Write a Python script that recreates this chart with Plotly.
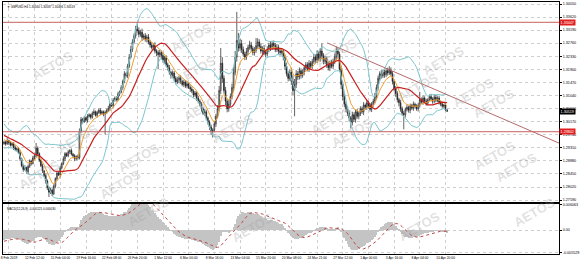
import numpy as np
import pandas as pd
import plotly.graph_objects as go

# ---------------- data ----------------
header_text = "▼ GBPUSD,H4 1.30560 1.30587 1.30496 1.30519"
macd_text = "MACD(12,26,9) -0.000125 0.000030"

# off-screen history (for indicator warm-up only)
warmup_closes = [
    1.3120, 1.3105, 1.3112, 1.3098, 1.3090, 1.3095, 1.3080, 1.3072, 1.3085, 1.3068,
    1.3060, 1.3066, 1.3055, 1.3062, 1.3048, 1.3040, 1.3045, 1.3030, 1.3035, 1.3020,
    1.3012, 1.3018, 1.3000, 1.2992, 1.2985, 1.2990, 1.2972, 1.2965, 1.2975, 1.2960,
    1.2955, 1.2962, 1.2948, 1.2940, 1.2958, 1.2975, 1.2990, 1.2968, 1.2955, 1.2945,
]

closes = [
    1.2950, 1.2944, 1.2955, 1.2948, 1.2940, 1.2945, 1.2932, 1.2925, 1.2928, 1.2915,
    1.2895, 1.2872, 1.2860, 1.2866, 1.2852, 1.2870, 1.2888, 1.2880, 1.2898, 1.2905,
    1.2930, 1.2912, 1.2890, 1.2872, 1.2855, 1.2840, 1.2822, 1.2800, 1.2785, 1.2792,
    1.2780, 1.2805, 1.2830, 1.2848, 1.2842, 1.2865, 1.2880, 1.2895, 1.2912, 1.2905,
    1.2918, 1.2922, 1.2910, 1.2905, 1.2895, 1.2903, 1.2898, 1.2985, 1.3025, 1.3018,
    1.3030, 1.3022, 1.3035, 1.3040, 1.3032, 1.3045, 1.3050, 1.3038, 1.3048, 1.3055,
    1.3045, 1.3050, 1.3042, 1.3048, 1.3055, 1.3062, 1.3075, 1.3070, 1.3088, 1.3095,
    1.3090, 1.3108, 1.3115, 1.3130, 1.3150, 1.3175, 1.3168, 1.3200, 1.3230, 1.3255,
    1.3280, 1.3300, 1.3322, 1.3318, 1.3305, 1.3312, 1.3295, 1.3300, 1.3288, 1.3296,
    1.3280, 1.3270, 1.3262, 1.3268, 1.3250, 1.3245, 1.3238, 1.3245, 1.3235, 1.3220,
    1.3228, 1.3205, 1.3195, 1.3180, 1.3170, 1.3178, 1.3160, 1.3148, 1.3155, 1.3162,
    1.3150, 1.3140, 1.3148, 1.3135, 1.3142, 1.3130, 1.3125, 1.3118, 1.3105, 1.3112,
    1.3095, 1.3085, 1.3075, 1.3060, 1.3045, 1.3050, 1.3030, 1.3015, 1.3000, 1.2985,
    1.2990, 1.3010, 1.3035, 1.3060, 1.3120, 1.3210, 1.3160, 1.3120, 1.3085, 1.3060,
    1.3075, 1.3100, 1.3130, 1.3180, 1.3230, 1.3285, 1.3260, 1.3275, 1.3255, 1.3240,
    1.3230, 1.3248, 1.3262, 1.3270, 1.3258, 1.3245, 1.3252, 1.3268, 1.3280, 1.3265,
    1.3250, 1.3258, 1.3245, 1.3240, 1.3255, 1.3270, 1.3262, 1.3275, 1.3268, 1.3255,
    1.3262, 1.3250, 1.3245, 1.3250, 1.3230, 1.3200, 1.3175, 1.3160, 1.3180, 1.3150,
    1.3120, 1.3140, 1.3175, 1.3165, 1.3185, 1.3170, 1.3180, 1.3195, 1.3205, 1.3190,
    1.3210, 1.3200, 1.3215, 1.3230, 1.3220, 1.3240, 1.3225, 1.3250, 1.3235, 1.3215,
    1.3225, 1.3205, 1.3195, 1.3210, 1.3200, 1.3215, 1.3230, 1.3250, 1.3240, 1.3190,
    1.3140, 1.3100, 1.3075, 1.3060, 1.3045, 1.3030, 1.3015, 1.3040, 1.3025, 1.3050,
    1.3035, 1.3045, 1.3060, 1.3050, 1.3072, 1.3065, 1.3080, 1.3070, 1.3058, 1.3075,
    1.3085, 1.3100, 1.3130, 1.3160, 1.3175, 1.3168, 1.3180, 1.3172, 1.3185, 1.3178,
    1.3188, 1.3175, 1.3150, 1.3125, 1.3110, 1.3090, 1.3080, 1.3060, 1.3045, 1.3040,
    1.3058, 1.3065, 1.3055, 1.3070, 1.3062, 1.3075, 1.3068, 1.3060, 1.3072, 1.3090,
    1.3082, 1.3095, 1.3085, 1.3078, 1.3090, 1.3100, 1.3092, 1.3085, 1.3098, 1.3088,
    1.3095, 1.3082, 1.3075, 1.3068, 1.3072, 1.3056, 1.30519,
]

upper_wick_pips = [
    5, 4, 8, 3, 6, 4, 5, 7, 3, 6,   9, 4, 5, 8, 3, 6, 5, 4, 7, 5,
    17, 6, 4, 5, 7, 3, 6, 5, 4, 8,  5, 6, 4, 7, 5, 6, 3, 8, 5, 4,
    6, 5, 7, 4, 5, 3, 6, 10, 8, 5,  6, 4, 7, 5, 3, 6, 8, 4, 5, 6,
    7, 5, 4, 6, 5, 8, 4, 6, 7, 5,   6, 8, 5, 7, 6, 9, 5, 8, 10, 12,
    9, 8, 11, 23, 10, 8, 12, 7, 9, 8,  10, 7, 9, 8, 11, 6, 8, 9, 7, 10,
    6, 8, 7, 9, 5, 8, 6, 7, 9, 6,   8, 5, 7, 6, 9, 5, 7, 8, 6, 7,
    5, 8, 6, 7, 5, 9, 6, 5, 7, 8,   6, 10, 8, 12, 15, 50, 20, 10, 12, 8,
    15, 10, 12, 18, 20, 94, 25, 15, 12, 10,  8, 12, 9, 14, 10, 8, 11, 25, 12, 9,
    10, 8, 12, 9, 11, 7, 13, 9, 10, 8,  11, 9, 8, 10, 7, 9, 12, 8, 10, 15,
    20, 18, 12, 9, 11, 8, 10, 7, 9, 8,  10, 7, 9, 11, 8, 12, 9, 10, 25, 8,
    9, 7, 10, 8, 11, 9, 12, 15, 10, 8,  12, 9, 10, 8, 7, 9, 6, 10, 8, 7,
    9, 6, 8, 7, 10, 5, 8, 6, 9, 7,   8, 12, 10, 9, 8, 12, 7, 9, 8, 10,
    12, 8, 9, 7, 10, 8, 6, 9, 7, 8,  6, 8, 5, 7, 6, 9, 5, 7, 8, 25,
    7, 9, 6, 8, 5, 7, 9, 6, 8, 7,   6, 8, 5, 7, 4, 6, 2.7,
]

lower_wick_pips = [
    4, 6, 3, 7, 5, 4, 8, 5, 6, 4,   7, 5, 8, 4, 6, 9, 5, 7, 4, 6,
    5, 8, 6, 4, 7, 5, 9, 8, 16, 6,  8, 5, 7, 6, 4, 8, 5, 6, 7, 4,
    5, 7, 4, 6, 8, 5, 6, 5, 4, 7,   5, 6, 8, 4, 7, 5, 6, 4, 8, 5,
    6, 4, 7, 67, 5, 6, 8, 4, 7, 5,  6, 5, 7, 4, 8, 6, 5, 7, 6, 5,
    8, 6, 9, 7, 10, 8, 11, 9, 7, 10,  8, 9, 7, 10, 8, 12, 48, 9, 11, 8,
    10, 7, 9, 8, 11, 6, 9, 8, 7, 10,  8, 6, 9, 7, 8, 5, 10, 7, 8, 6,
    9, 7, 8, 10, 6, 9, 8, 7, 10, 12,  20, 8, 10, 7, 9, 12, 15, 10, 14, 12,
    10, 8, 9, 12, 10, 15, 12, 9, 11, 8,  10, 9, 12, 8, 11, 9, 10, 8, 12, 9,
    8, 11, 9, 10, 7, 9, 12, 8, 10, 9,   8, 10, 9, 7, 11, 12, 9, 10, 8, 12,
    15, 85, 12, 10, 9, 11, 8, 10, 9, 7,  9, 8, 10, 7, 11, 9, 8, 10, 12, 9,
    8, 10, 9, 11, 7, 9, 8, 10, 12, 9,   15, 12, 10, 11, 9, 12, 20, 10, 9, 11,
    8, 10, 9, 7, 11, 8, 9, 10, 7, 9,    8, 7, 9, 10, 8, 9, 7, 10, 8, 9,
    7, 9, 10, 8, 11, 9, 12, 10, 8, 48,  9, 7, 8, 10, 6, 9, 8, 7, 9, 8,
    7, 9, 6, 8, 7, 5, 8, 9, 6, 7,       6, 8, 7, 5, 6, 4, 2.3,
]

time_labels = ["8 Feb 2019", "12 Feb 12:00", "15 Feb 04:00", "19 Feb 16:00", "22 Feb 08:00",
               "26 Feb 20:00", "1 Mar 12:00", "6 Mar 00:00", "8 Mar 16:00", "13 Mar 04:00",
               "15 Mar 20:00", "20 Mar 08:00", "24 Mar 21:00", "27 Mar 12:00", "1 Apr 00:00",
               "3 Apr 16:00", "8 Apr 04:00", "10 Apr 20:00"]
bars_per_label = 16
first_label_bar = 3.1

price_ticks = [1.34050, 1.33620, 1.33190, 1.32760, 1.32330, 1.31900, 1.31470, 1.31040,
               1.30610, 1.30170, 1.29740, 1.29310, 1.28880, 1.28450, 1.28020, 1.27590]
price_range = [1.27526, 1.34116]

resistance = 1.33447
support = 1.29842
last_price = 1.30519
trend_x = [201.3, 346.0]
trend_y = [1.3277, 1.2946]

macd_ticks = [0.006063, 0.0, -0.005529]
macd_ticktext = ["0.006063", "0.00", "-0.005529"]

x_range = [-0.62, 345.7]

# watermark centres in pixel coordinates (decoration)
watermarks = [(25, 45), (165, 17), (195, 50), (178, 107), (233, 128), (50, 138), (112, 157),
              (12, 195), (338, 32), (472, 40), (502, 72), (522, 103), (523, 155), (545, 188),
              (563, 233), (93, 205), (122, 232), (253, 248), (447, 247), (332, 120),
              (380, 133), (445, 87)]

# ---------------- derived ----------------
N = len(closes)
x = np.arange(N)
opens = [warmup_closes[-1]] + closes[:-1]
highs = [max(o, c) + u / 10000 for o, c, u in zip(opens, closes, upper_wick_pips)]
lows = [min(o, c) - l / 10000 for o, c, l in zip(opens, closes, lower_wick_pips)]

s = pd.Series(warmup_closes + closes)
ma_fast = s.ewm(span=8, adjust=False).mean().iloc[-N:].values
ma_slow = s.rolling(21).mean().iloc[-N:].values
mid = s.rolling(20).mean()
sd = s.rolling(20).std(ddof=0)
bb_up = (mid + 2 * sd).iloc[-N:].values
bb_lo = (mid - 2 * sd).iloc[-N:].values
macd = (s.ewm(span=12, adjust=False).mean() - s.ewm(span=26, adjust=False).mean())
signal = macd.rolling(9).mean()
macd_v = macd.iloc[-N:].values
signal_v = signal.iloc[-N:].values

tickvals_x = [first_label_bar + bars_per_label * k for k in range(len(time_labels))]

BB = "#7cc6cf"
ORANGE = "#f0a030"
RED = "#c81e1e"
FONT = "Liberation Sans"

fig = go.Figure()
fig.add_trace(go.Scatter(x=x, y=bb_up, mode="lines", line=dict(color=BB, width=1), hoverinfo="skip"))
fig.add_trace(go.Scatter(x=x, y=bb_lo, mode="lines", line=dict(color=BB, width=1), hoverinfo="skip"))
fig.add_trace(go.Candlestick(
    x=x, open=opens, high=highs, low=lows, close=closes, whiskerwidth=0,
    increasing=dict(line=dict(color="#202020", width=0.7), fillcolor="#ffffff"),
    decreasing=dict(line=dict(color="#202020", width=0.7), fillcolor="#202020"),
))
fig.add_trace(go.Scatter(x=x, y=ma_fast, mode="lines", line=dict(color=ORANGE, width=1), hoverinfo="skip"))
fig.add_trace(go.Scatter(x=x, y=ma_slow, mode="lines", line=dict(color=RED, width=1.2), hoverinfo="skip"))
fig.add_trace(go.Scatter(x=trend_x, y=trend_y, mode="lines", line=dict(color="#b86a6a", width=1), hoverinfo="skip"))

fig.add_trace(go.Bar(x=x, y=macd_v, marker=dict(color="#c4c4c4", line=dict(width=0)), width=0.55,
                     xaxis="x2", yaxis="y2", hoverinfo="skip"))
fig.add_trace(go.Scatter(x=x, y=signal_v, mode="lines", line=dict(color="#c04848", width=1, dash="dot"),
                         xaxis="x2", yaxis="y2", hoverinfo="skip"))

axis_font = dict(family=FONT, size=3.7, color="#000000")
time_font = dict(family=FONT, size=3.3, color="#000000")
tiny = dict(family=FONT, size=3.0, color="#000000")
grid = dict(showgrid=True, gridcolor="#cfcfcf", griddash="dot", gridwidth=1)

fig.update_layout(
    width=580, height=264, margin=dict(l=1, r=18, t=2, b=10),
    paper_bgcolor="white", plot_bgcolor="white", showlegend=False, bargap=0,
    font=axis_font,
    xaxis=dict(domain=[0, 1], range=x_range, anchor="y", tickvals=tickvals_x, showticklabels=False,
               rangeslider=dict(visible=False), showline=True, linecolor="#000000", linewidth=1,
               mirror=True, zeroline=False, ticks="", **grid),
    yaxis=dict(domain=[0.2063, 1], range=price_range, side="right", tickvals=price_ticks,
               ticktext=[f"{v:.5f}" for v in price_ticks], tickfont=axis_font, showline=True,
               linecolor="#000000", linewidth=1, mirror=True, ticks="outside", ticklen=2,
               tickcolor="#000000", zeroline=False, **grid),
    xaxis2=dict(domain=[0, 1], range=x_range, anchor="y2", matches="x", tickvals=tickvals_x,
                ticktext=time_labels, tickfont=time_font, showline=True, linecolor="#000000",
                linewidth=1, mirror=True, ticks="", zeroline=False, tickangle=0,
                ticklabeloverflow="allow", **grid),
    yaxis2=dict(domain=[0, 0.1984], range=[-0.0058, 0.0063], side="right", tickvals=macd_ticks,
                ticktext=macd_ticktext, tickfont=axis_font, showline=True, linecolor="#000000",
                linewidth=1, mirror=True, ticks="outside", ticklen=2, tickcolor="#000000",
                zeroline=False, **grid),
)

# horizontal levels
for lvl in (resistance, support):
    fig.add_shape(type="line", xref="paper", x0=0, x1=1, yref="y", y0=lvl, y1=lvl,
                  line=dict(color="#c86060", width=1))

annotations = []
for lvl, bg in ((resistance, "#e02020"), (support, "#e02020"), (last_price, "#000000")):
    annotations.append(dict(xref="paper", x=1.0, xanchor="left", yref="y", y=lvl, yanchor="middle",
                            text=f"{lvl:.5f}", showarrow=False, bgcolor=bg, borderpad=0.6,
                            font=dict(family=FONT, size=3.7, color="#ffffff")))
annotations.append(dict(xref="paper", x=0.004, xanchor="left", yref="paper", y=0.997, yanchor="top",
                        text=header_text, showarrow=False, font=tiny))
annotations.append(dict(xref="paper", x=0.004, xanchor="left", yref="paper", y=0.196, yanchor="top",
                        text=macd_text, showarrow=False, font=tiny))
for px, py in watermarks:
    annotations.append(dict(xref="paper", yref="paper", x=(px - 1) / 561, y=(254 - py) / 252,
                            text="<b>AETOS</b>", showarrow=False, textangle=-30,
                            font=dict(family=FONT, size=13, color="rgba(160,160,160,0.33)")))
fig.update_layout(annotations=annotations)

fig.write_html("out.html")
